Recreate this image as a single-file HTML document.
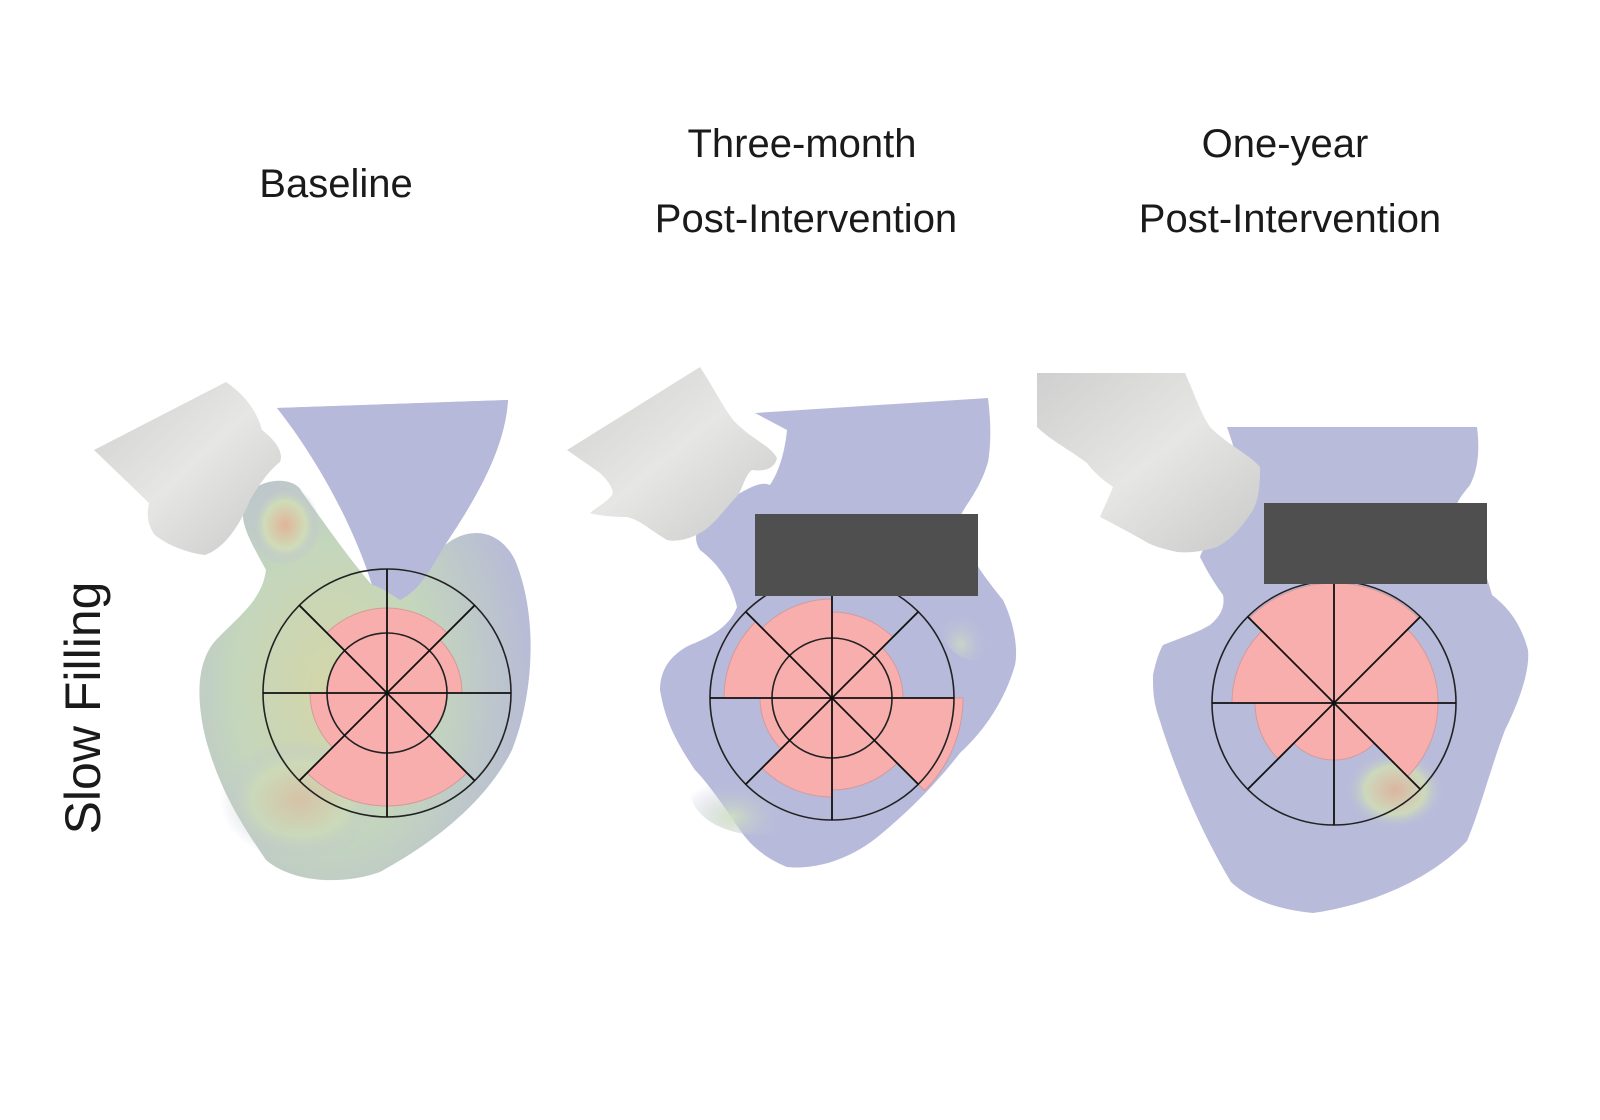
<!DOCTYPE html>
<html><head><meta charset="utf-8"><style>
html,body{margin:0;padding:0;background:#fff;}
svg{display:block}
text{font-family:"Liberation Sans",Arial,sans-serif;fill:#1a1a1a}
</style></head><body>
<svg id="s" width="1600" height="1120" viewBox="0 0 1600 1120" xmlns="http://www.w3.org/2000/svg">
<defs>
<linearGradient id="gr" x1="0" y1="0" x2="1" y2="1">
<stop offset="0" stop-color="#cfcfcf"/><stop offset="0.5" stop-color="#e6e6e4"/><stop offset="1" stop-color="#c9c9c9"/>
</linearGradient>
<radialGradient id="mix" cx="0.4" cy="0.6" r="0.6">
<stop offset="0" stop-color="#d4d6a8"/><stop offset="0.5" stop-color="#c4d6bc"/><stop offset="1" stop-color="#b8bcd6"/>
</radialGradient>
<radialGradient id="mix2" cx="0.3" cy="0.8" r="0.4">
<stop offset="0" stop-color="#cfe0c0"/><stop offset="1" stop-color="#b9bbda" stop-opacity="0"/>
</radialGradient>
<radialGradient id="mix3" cx="0.5" cy="0.5" r="0.5">
<stop offset="0" stop-color="#e0b49a"/><stop offset="0.6" stop-color="#cfdcb8"/><stop offset="1" stop-color="#b9bbda" stop-opacity="0"/>
</radialGradient>
</defs>

<text x="336" y="197" font-size="40" text-anchor="middle">Baseline</text>
<text x="802" y="157" font-size="40" text-anchor="middle">Three-month</text>
<text x="806" y="232" font-size="40" text-anchor="middle">Post-Intervention</text>
<text x="1285" y="157" font-size="40" text-anchor="middle">One-year</text>
<text x="1290" y="232" font-size="40" text-anchor="middle">Post-Intervention</text>
<text transform="translate(100,708) rotate(-90)" font-size="50" text-anchor="middle">Slow Filling</text>

<!-- Panel 1 -->
<path d="M277,408 L508,400 C505,450 475,500 445,545 C470,525 500,530 515,560 C540,620 532,700 512,750 C482,810 420,850 380,872 C340,886 292,882 266,860 C240,822 220,790 206,740 C196,700 196,662 216,640 C240,615 262,600 266,570 C250,540 236,520 246,495 C266,475 296,478 302,492 C322,520 350,560 372,585 C352,520 312,452 277,408 Z" fill="url(#mix)"/>
<path d="M277,408 L508,400 C505,450 475,500 445,545 C430,570 420,590 400,600 C385,590 375,585 372,585 C352,520 312,452 277,408 Z" fill="#b7b9da"/>
<ellipse cx="285" cy="525" rx="35" ry="40" fill="url(#mix3)"/>
<ellipse cx="300" cy="800" rx="80" ry="60" fill="url(#mix3)" opacity="0.6"/>
<path d="M94,450 L226,382 C245,395 257,411 262,430 C275,440 284,452 280,462 C270,470 262,480 250,500 C240,525 225,548 205,555 C180,552 160,540 154,534 C145,520 148,510 149,503 Z" fill="url(#gr)"/>

<!-- Panel 2 -->
<path d="M755,413 L988,398 C992,430 990,450 988,462 C980,490 965,505 960,517 C965,550 975,565 1003,600 C1015,625 1018,650 1015,665 C1005,700 985,730 960,753 C935,785 910,810 880,835 C850,860 815,870 787,867 C765,858 750,845 740,830 C720,800 705,780 695,770 C675,740 665,720 660,690 C660,670 670,655 690,645 C715,635 730,625 737,607 C732,585 720,565 700,550 C690,535 700,520 720,505 C745,490 760,480 770,485 C780,470 785,450 787,430 Z" fill="#b8badb"/>
<ellipse cx="760" cy="790" rx="70" ry="45" fill="url(#mix2)" opacity="0.9"/>
<ellipse cx="975" cy="620" rx="35" ry="40" fill="url(#mix2)" opacity="0.7"/>
<path d="M567,450 L700,367 C712,385 722,405 733,420 C752,440 770,445 777,458 C775,468 765,472 752,470 C745,475 742,490 738,495 C728,505 718,520 705,530 C690,540 675,542 667,540 C650,530 640,520 627,517 C610,517 595,515 590,513 C600,505 610,500 613,493 C612,485 605,478 600,473 Z" fill="url(#gr)"/>
<rect x="755" y="514" width="223" height="82" fill="#4f4f4f"/>

<!-- Panel 3 -->
<path d="M1227,427 L1477,427 C1480,450 1478,470 1470,485 C1462,495 1458,500 1457,505 C1475,540 1485,570 1492,595 C1505,605 1520,620 1528,650 C1530,670 1520,700 1505,730 C1490,770 1480,810 1467,841 C1430,880 1370,905 1313,913 C1280,910 1250,900 1231,882 C1200,830 1175,770 1159,718 C1153,700 1153,690 1153,675 C1156,660 1160,650 1163,645 C1180,638 1197,633 1210,625 C1222,615 1225,605 1223,595 C1212,580 1205,567 1200,557 C1205,540 1225,530 1243,520 C1245,480 1235,450 1227,427 Z" fill="#b9bbdb"/>
<ellipse cx="1395" cy="790" rx="50" ry="40" fill="url(#mix3)" opacity="0.9"/>
<path d="M1037,373 L1185,373 C1195,395 1200,412 1210,427 C1228,445 1250,455 1260,467 C1260,490 1258,500 1253,510 C1240,530 1230,540 1217,547 C1200,552 1190,553 1177,552 C1160,548 1150,545 1143,540 C1125,530 1110,522 1100,517 C1105,505 1110,495 1113,487 C1100,478 1092,470 1087,463 C1070,450 1050,440 1037,427 Z" fill="url(#gr)"/>
<rect x="1264" y="503" width="223" height="81" fill="#4f4f4f"/>

<g id="charts"></g>
</svg>
<script>
(function(){
var ns="http://www.w3.org/2000/svg",g=document.getElementById("charts");
function el(t,a){var e=document.createElementNS(ns,t);for(var k in a)e.setAttribute(k,a[k]);g.appendChild(e);return e;}
function pt(cx,cy,r,a){a=a*Math.PI/180;return [cx+r*Math.cos(a),cy+r*Math.sin(a)];}
function chart(cx,cy,R,ri,radii,clipTop){
  // radii for sectors starting at angle 0 (right), going clockwise (SVG y down) in 45 deg steps
  for(var i=0;i<8;i++){
    var r=radii[i],a0=i*45,a1=a0+45,p0=pt(cx,cy,r,a0),p1=pt(cx,cy,r,a1);
    el("path",{d:"M"+cx+","+cy+" L"+p0[0]+","+p0[1]+" A"+r+","+r+" 0 0 1 "+p1[0]+","+p1[1]+" Z",fill:"#f9aeae",stroke:"#d49a9a","stroke-width":"1"});
  }
  el("circle",{cx:cx,cy:cy,r:R,fill:"none",stroke:"#222","stroke-width":"1.6"});
  el("circle",{cx:cx,cy:cy,r:ri,fill:"none",stroke:"#222","stroke-width":"1.6"});
  for(var j=0;j<8;j++){var p=pt(cx,cy,R,j*45);
    el("line",{x1:cx,y1:cy,x2:p[0],y2:p[1],stroke:"#111","stroke-width":"1.8"});}
}
// order: 0-45 (right-lower), 45-90, 90-135, 135-180, 180-225, 225-270, 270-315, 315-360
chart(387,693,124,60,[60,113,113,77,60,85,85,75]);
chart(832,698,122,60,[131,92,99,72,108,99,86,71]);
chart(1334,703,122,0,[104,57,57,79,102,120,120,104]);
// redraw panel-3 rect over chart top
var r=document.createElementNS(ns,"rect");
r.setAttribute("x",1264);r.setAttribute("y",503);r.setAttribute("width",223);r.setAttribute("height",81);r.setAttribute("fill","#4f4f4f");g.appendChild(r);
var r2=document.createElementNS(ns,"rect");
r2.setAttribute("x",755);r2.setAttribute("y",514);r2.setAttribute("width",223);r2.setAttribute("height",82);r2.setAttribute("fill","#4f4f4f");g.appendChild(r2);
})();
</script>
</body></html>
